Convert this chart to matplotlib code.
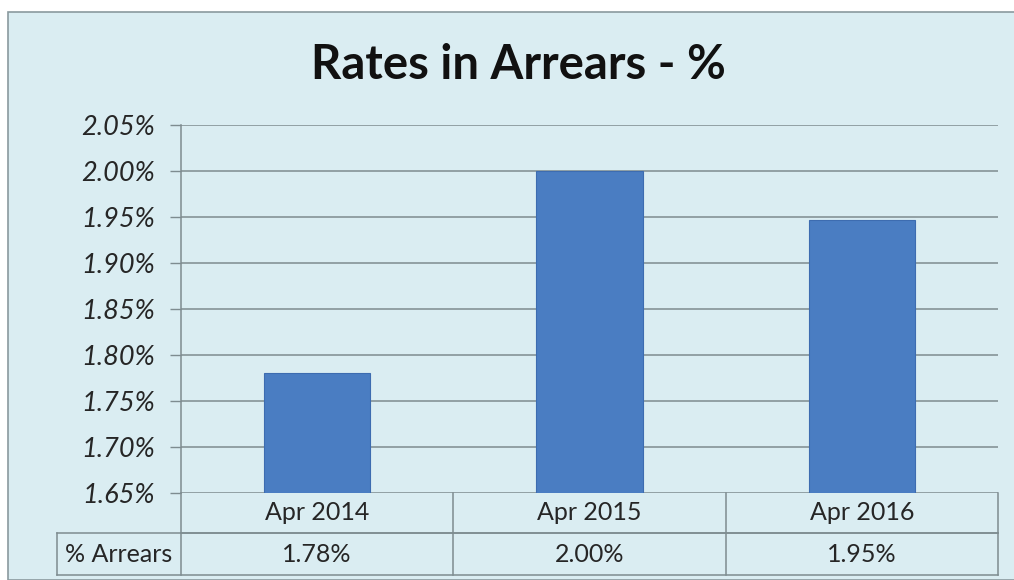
import matplotlib.pyplot as plt
from matplotlib.patches import Rectangle

categories = ['Apr 2014', 'Apr 2015', 'Apr 2016']
arrears = [1.78, 2.00, 1.947]
yticks = [1.65, 1.70, 1.75, 1.80, 1.85, 1.90, 1.95, 2.00, 2.05]
row_label = '% Arrears'

plt.rcParams['font.family'] = ['Lato', 'DejaVu Sans']

bg = '#DAEDF2'
grid_c = '#7E8C90'
bar_c = '#4A7DC2'
text_c = '#262626'

fig = plt.figure(figsize=(10.14, 5.8), dpi=100, facecolor='white')

# chart area panel
fig.patches.append(Rectangle((8 / 1014, 0), 1, 1 - 12 / 580, transform=fig.transFigure,
                             facecolor=bg, edgecolor='#8A9A9E', linewidth=1.2, zorder=-10))

ax = fig.add_axes([181 / 1014, 1 - 493 / 580, 817 / 1014, 368 / 580])
ax.set_facecolor('none')

x = list(range(len(categories)))
ax.bar(x, arrears, bottom=0, width=0.39, color=bar_c, edgecolor='#3D6CB0', linewidth=0.8, zorder=3)

ax.set_xlim(-0.5, len(categories) - 0.5)
ax.set_ylim(yticks[0], yticks[-1])
ax.set_yticks(yticks)
ax.set_yticklabels([f'{v:.2f}%' for v in yticks], fontstyle='italic', fontsize=19.5, color=text_c)
ax.yaxis.grid(True, color=grid_c, linewidth=1.1)
ax.set_axisbelow(True)
ax.tick_params(axis='y', length=8, width=1.0, color=grid_c, pad=11)
ax.set_xticks([])
for side in ['top', 'right', 'bottom']:
    ax.spines[side].set_visible(False)
ax.spines['left'].set_color(grid_c)
ax.spines['left'].set_linewidth(1.1)

# data table under the plot
h1 = -40 / 368
h2 = -82 / 368
lab_x = (57 - 181) / 817
n = len(categories)
xfrac = lambda v: (v + 0.5) / n
line_kw = dict(color=grid_c, linewidth=1.1, clip_on=False, transform=ax.transAxes)

ax.plot([0, 1], [h1, h1], **line_kw)
ax.plot([lab_x, 1], [h1, h1], **line_kw)
ax.plot([lab_x, 1], [h2, h2], **line_kw)
ax.plot([lab_x, lab_x], [h1, h2], **line_kw)
ax.plot([0, 0], [0, h2], **line_kw)
for i in range(n):
    xr = xfrac(i + 0.5)
    ax.plot([xr, xr], [0, h2], **line_kw)

for i, (cat, val) in enumerate(zip(categories, arrears)):
    ax.text(xfrac(i), h1 / 2, cat, ha='center', va='center', fontsize=18,
            color=text_c, transform=ax.transAxes)
    ax.text(xfrac(i), (h1 + h2) / 2, f'{val:.2f}%', ha='center', va='center', fontsize=18,
            color=text_c, transform=ax.transAxes)
ax.text(lab_x / 2, (h1 + h2) / 2, row_label, ha='center', va='center', fontsize=18,
        color=text_c, transform=ax.transAxes)

fig.text(518 / 1014, 1 - 65 / 580, 'Rates in Arrears - %', ha='center', va='center',
         fontsize=34, fontweight='bold', color='#111111')

plt.savefig('out.png', dpi=100, facecolor='white')
plt.close()
